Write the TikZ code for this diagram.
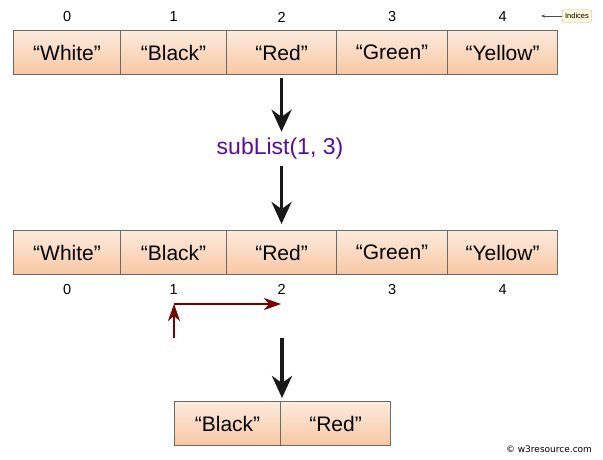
\documentclass[tikz,border=0pt]{standalone}
\usepackage{fontspec}
\setmainfont{Liberation Sans}
\newfontfamily\markfont{DejaVu Sans}
\usepackage{tikz}
\usetikzlibrary{positioning,arrows.meta}

\definecolor{peachtop}{HTML}{FDEBDD}
\definecolor{peachbot}{HTML}{F8C7A3}
\definecolor{cellline}{HTML}{6A6A6A}
\definecolor{sublistcol}{HTML}{5B0BA0}
\definecolor{darkred}{HTML}{780000}
\definecolor{notefill}{HTML}{FFF8DA}
\definecolor{noteline}{HTML}{C9BA8C}

\tikzset{
  cell/.style={draw=cellline, line width=1.1pt, top color=peachtop, bottom color=peachbot,
    minimum height=44pt, inner sep=0pt, anchor=north west, font=\fontsize{21}{21}\selectfont},
  idx/.style={font=\fontsize{14.5}{14.5}\selectfont},
  bigarrow/.style={black!90, line width=3.4pt, -{Stealth[length=22pt,width=20pt,inset=7pt]}},
  redarrow/.style={darkred, line width=2pt, -{Stealth[length=17pt,width=12pt,inset=5pt]}},
}

\begin{document}
\begin{tikzpicture}[x=1pt, y=-1pt]
	\useasboundingbox (0,0) rectangle (603,459);
	% source list
	\foreach \i/\a/\w/\t in {0/13/107/White, 1/120/106/Black, 2/226/110/Red, 3/336/111/Green, 4/447/110/Yellow}{
		\node[cell, minimum width=\w pt] (top\i) at (\a,30) {“\t”};
		\node[idx] (ti\i) at ([yshift=13pt]top\i.north) {\i};
	}
	\node[draw=noteline, fill=notefill, rounded corners=2.5pt, inner xsep=3pt, inner ysep=3.5pt, font=\fontsize{7.5}{7.5}\selectfont] (note) at (577,16) {Indices};
	\coordinate (notetip) at (541,16);
	\draw[black!70, line width=0.5pt, -{Stealth[length=4pt,width=3pt]}] (note.west) -- (notetip);

	\node[sublistcol, font=\fontsize{23}{23}\selectfont] (sub) at (280,149) {subList(1, 3)};
	\draw[bigarrow] ([yshift=-3pt]top2.south) -- ([yshift=3pt]top2.south |- sub.north);

	% result of the call
	\foreach \i/\a/\w/\t in {0/13/107/White, 1/120/106/Black, 2/226/110/Red, 3/336/111/Green, 4/447/110/Yellow}{
		\node[cell, minimum width=\w pt] (mid\i) at (\a,230) {“\t”};
		\node[idx] (mi\i) at ([yshift=-14pt]mid\i.south) {\i};
	}
	\draw[bigarrow] (top2.south |- sub.south) ++(0,3) -- ([yshift=6pt]mid2.north);

	\coordinate (rstart) at (174,338);
	\coordinate (rcorner) at (174,304);
	\coordinate (rend) at (281,304);
	\draw[redarrow] (rstart) -- (rcorner);
	\draw[redarrow] (rcorner) -- (rend);

	% sublist
	\node[cell, minimum width=106pt] (bot0) at (174,401) {“Black”};
	\node[cell, minimum width=110pt] (bot1) at (280,401) {“Red”};
	\coordinate (down) at (282,338);
	\draw[bigarrow] (down) -- ([yshift=3pt]down |- bot1.north);

	\node[font=\markfont\fontsize{9}{9}\selectfont] (copy) at (549,449) {© w3resource.com};
\end{tikzpicture}
\end{document}
